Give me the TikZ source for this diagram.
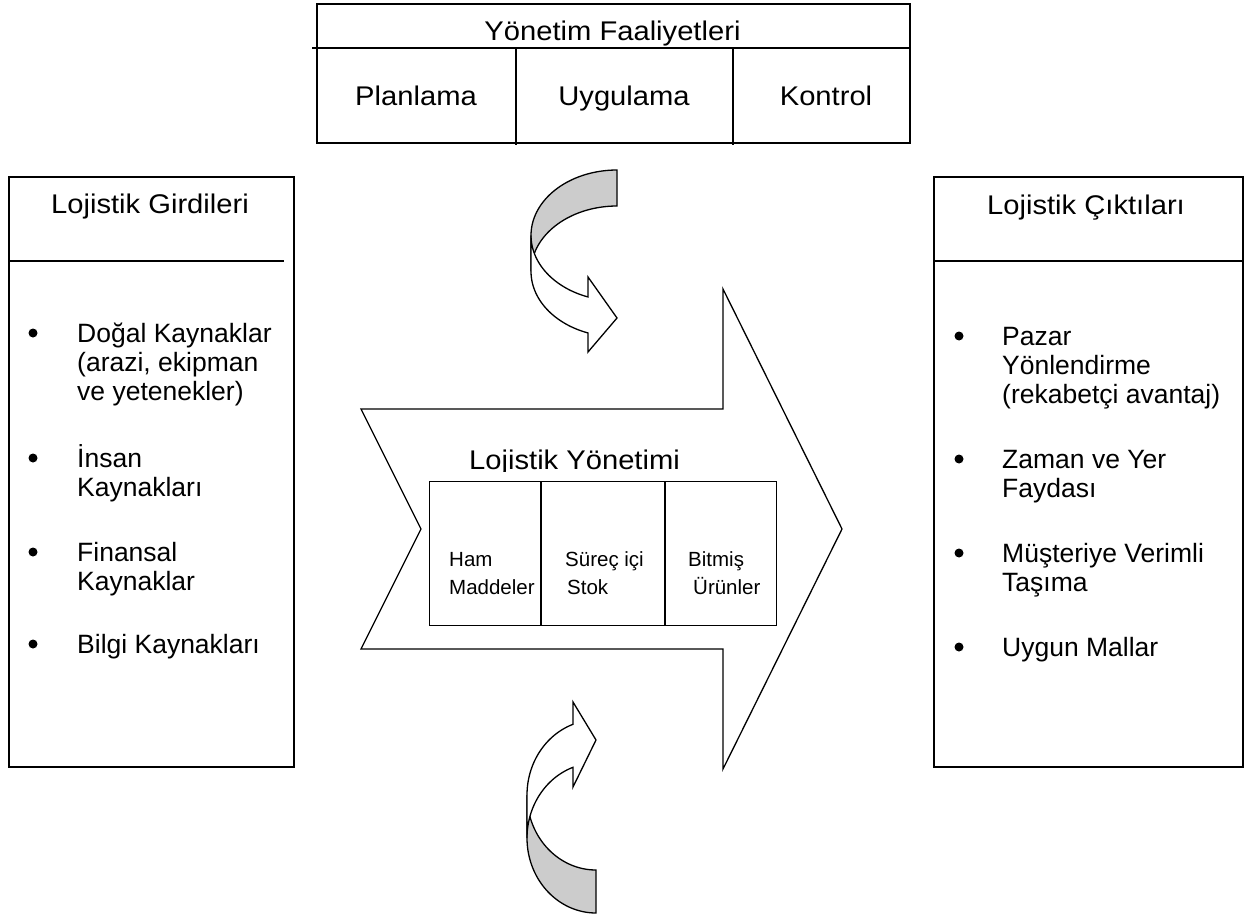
\documentclass[tikz,border=0pt]{standalone}
\usepackage{fontspec}
\setmainfont{Liberation Sans}
\newfontfamily\widefont{Liberation Sans}[FakeStretch=1.08]
\definecolor{backgray}{RGB}{204,204,204}
\newcommand\stacklines[1]{\parbox[t]{280pt}{\raggedright #1}}
\begin{document}
\begin{tikzpicture}[x=1pt,y=-1pt,
  frame/.style={draw=black, line width=1.8pt, inner sep=0pt, anchor=north west},
  rule/.style={draw=black, line width=1.6pt},
  outline/.style={draw=black, line width=1.3pt, line join=miter},
  headtext/.style={font=\widefont\fontsize{27}{29}\selectfont, inner sep=0pt},
  itemtext/.style={font=\fontsize{26.5}{29}\selectfont, inner sep=0pt, anchor=base west},
  celltext/.style={font=\fontsize{20.5}{28}\selectfont, inner sep=0pt, anchor=base west},
  dot/.style={circle, fill=black, inner sep=0pt, minimum size=9pt},
]
\useasboundingbox (0,0) rectangle (1257,920);

% ---- management activities table
\node[frame, minimum width=593pt, minimum height=139pt] (mgmt) at (316,3) {};
\draw[rule] (312,48) -- (909,48);
\draw[rule] (515.7,48) -- (515.7,145);
\draw[rule] (733,48) -- (733,145);
\node[headtext, anchor=base] (mgmttitle) at (612.5,41) {Yönetim Faaliyetleri};
\node[headtext, anchor=base] (plan) at (416,106) {Planlama};
\node[headtext, anchor=base] (apply) at (624,106) {Uygulama};
\node[headtext, anchor=base] (control) at (826,106) {Kontrol};

% ---- inputs box
\node[frame, minimum width=285pt, minimum height=590pt] (inputs) at (8,176) {};
\draw[rule] (8,261) -- (284,261);
\node[headtext, anchor=base] (intitle) at (150,213) {Lojistik Girdileri};
\node[dot] (ib1) at (33,333) {};
\node[dot] (ib2) at (33,458) {};
\node[dot] (ib3) at (33,552) {};
\node[dot] (ib4) at (33,644) {};
\node[itemtext] (in1) at (77,342) {\stacklines{Doğal Kaynaklar\\(arazi, ekipman\\ve yetenekler)}};
\node[itemtext] (in2) at (77,467) {\stacklines{İnsan\\Kaynakları}};
\node[itemtext] (in3) at (77,561) {\stacklines{Finansal\\Kaynaklar}};
\node[itemtext] (in4) at (77,653) {Bilgi Kaynakları};

% ---- outputs box
\node[frame, minimum width=309pt, minimum height=590pt] (outputs) at (933,176) {};
\draw[rule] (933,261) -- (1242,261);
\node[headtext, anchor=base] (outtitle) at (1086,214) {Lojistik Çıktıları};
\node[dot] (ob1) at (959,336) {};
\node[dot] (ob2) at (959,459) {};
\node[dot] (ob3) at (959,553) {};
\node[dot] (ob4) at (959,647) {};
\node[itemtext] (out1) at (1002,345) {\stacklines{Pazar\\Yönlendirme\\(rekabetçi avantaj)}};
\node[itemtext] (out2) at (1002,468) {\stacklines{Zaman ve Yer\\Faydası}};
\node[itemtext] (out3) at (1002,562) {\stacklines{Müşteriye Verimli\\Taşıma}};
\node[itemtext] (out4) at (1002,656) {Uygun Mallar};

% ---- central block arrow
\draw[outline, fill=white] (361,409) -- (723,409) -- (723,289) -- (842,529)
  -- (723,769) -- (723,649) -- (361,649) -- (421,529) -- cycle;
\node[draw=black, line width=1.3pt, inner sep=0pt, anchor=north west,
  minimum width=347pt, minimum height=144pt] (stock) at (429,481) {};
\draw[outline] (541,481) -- (541,625);
\draw[outline] (665,481) -- (665,625);
\begin{scope}
  \clip (430,420) rectangle (730,471);
  \node[headtext, anchor=base west] (lmtitle) at (469,469) {Lojistik Yönetimi};
\end{scope}
\node[celltext] (raw1) at (449,566) {Ham};
\node[celltext] (raw2) at (449,594) {Maddeler};
\node[celltext] (wip1) at (565,566) {Süreç içi};
\node[celltext] (wip2) at (567,594) {Stok};
\node[celltext] (fin1) at (688,566) {Bitmiş};
\node[celltext] (fin2) at (693,594) {Ürünler};

% ---- upper curved arrow (back face, then front face)
\draw[outline, fill=backgray]
  plot[domain=270:180, samples=40] ({617+86*cos(\x)}, {235.4+65.4*sin(\x)})
  -- (531,271.4)
  -- plot[domain=180:270, samples=40] ({617+86*cos(\x)}, {271.4+65.4*sin(\x)})
  -- cycle;
\draw[outline, fill=white]
  plot[domain=180:109.7, samples=40] ({617+86*cos(\x)}, {235.4+65.4*sin(\x)})
  -- (588,277) -- (617,318) -- (588,352)
  -- plot[domain=109.7:180, samples=40] ({617+86*cos(\x)}, {271.4+65.4*sin(\x)})
  -- cycle;

% ---- lower curved arrow (back face, then front face)
\draw[outline, fill=backgray]
  plot[domain=90:180, samples=40] ({596+69*cos(\x)}, {838+75*sin(\x)})
  -- (527,795)
  -- plot[domain=180:90, samples=40] ({596+69*cos(\x)}, {795+75*sin(\x)})
  -- cycle;
\draw[outline, fill=white]
  plot[domain=180:250.5, samples=40] ({596+69*cos(\x)}, {795+75*sin(\x)})
  -- (573,702) -- (596,740) -- (573,787)
  -- plot[domain=250.5:180, samples=40] ({596+69*cos(\x)}, {838+75*sin(\x)})
  -- cycle;
\end{tikzpicture}
\end{document}
